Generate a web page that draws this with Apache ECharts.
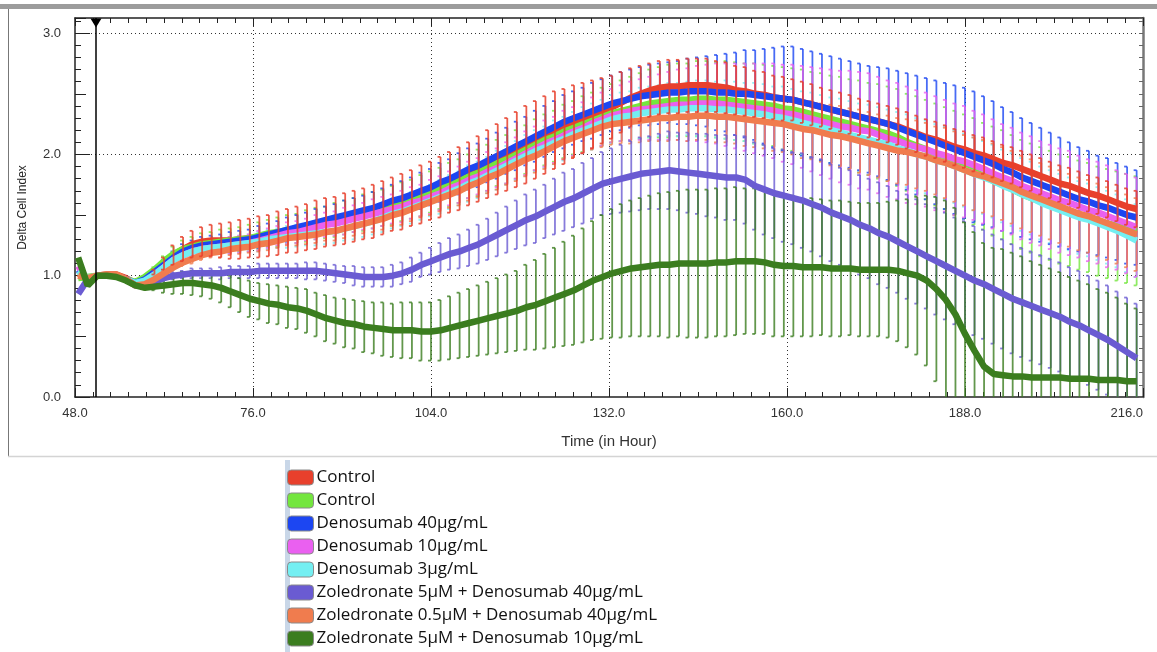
<!DOCTYPE html>
<html>
<head>
<meta charset="utf-8">
<title>Delta Cell Index</title>
<script src="https://cdn.jsdelivr.net/npm/echarts@6/dist/echarts.min.js"></script>
<style>
  html, body { margin: 0; padding: 0; background: #fff; }
  #chart { width: 1157px; height: 652px; }
</style>
</head>
<body>
<div id="chart"></div>
<script>
// sample times (hours), one error bar per sample
var hours = [
  48.5, 50, 51.5, 53, 54.5, 56, 57.5, 59, 60.5, 62,
  63.5, 65, 66.5, 68, 69.5, 71, 72.5, 74, 75.5, 77,
  78.5, 80, 81.5, 83, 84.5, 86, 87.5, 89, 90.5, 92,
  93.5, 95, 96.5, 98, 99.5, 101, 102.5, 104, 105.5, 107,
  108.5, 110, 111.5, 113, 114.5, 116, 117.5, 119, 120.5, 122,
  123.5, 125, 126.5, 128, 129.5, 131, 132.5, 134, 135.5, 137,
  138.5, 140, 141.5, 143, 144.5, 146, 147.5, 149, 150.5, 152,
  153.5, 155, 156.5, 158, 159.5, 161, 162.5, 164, 165.5, 167,
  168.5, 170, 171.5, 173, 174.5, 176, 177.5, 179, 180.5, 182,
  183.5, 185, 186.5, 188, 189.5, 191, 192.5, 194, 195.5, 197,
  198.5, 200, 201.5, 203, 204.5, 206, 207.5, 209, 210.5, 212,
  213.5, 215
];

// mean delta cell index per treatment
var control1 = [
  1.02, 0.98, 1.00, 1.01, 1.01, 0.98, 0.94, 0.97, 1.03, 1.10,
  1.17, 1.22, 1.26, 1.28, 1.29, 1.29, 1.29, 1.30, 1.31, 1.32,
  1.33, 1.35, 1.37, 1.38, 1.40, 1.42, 1.44, 1.45, 1.47, 1.49,
  1.51, 1.53, 1.56, 1.59, 1.61, 1.64, 1.67, 1.70, 1.73, 1.77,
  1.80, 1.84, 1.88, 1.92, 1.96, 2.00, 2.04, 2.08, 2.12, 2.16,
  2.20, 2.23, 2.27, 2.30, 2.33, 2.36, 2.39, 2.43, 2.47, 2.50,
  2.53, 2.55, 2.56, 2.56, 2.57, 2.57, 2.57, 2.56, 2.55, 2.53,
  2.52, 2.50, 2.49, 2.47, 2.46, 2.45, 2.43, 2.41, 2.39, 2.37,
  2.35, 2.33, 2.31, 2.29, 2.27, 2.25, 2.23, 2.20, 2.17, 2.14,
  2.12, 2.09, 2.06, 2.04, 2.01, 1.99, 1.96, 1.93, 1.91, 1.88,
  1.85, 1.82, 1.79, 1.76, 1.74, 1.71, 1.68, 1.66, 1.63, 1.60,
  1.57, 1.55
];
var control2 = [
  0.98, 0.99, 1.00, 1.00, 1.00, 0.97, 0.95, 0.99, 1.05, 1.12,
  1.18, 1.22, 1.24, 1.26, 1.27, 1.28, 1.29, 1.30, 1.31, 1.33,
  1.35, 1.36, 1.38, 1.39, 1.41, 1.43, 1.44, 1.46, 1.48, 1.50,
  1.52, 1.54, 1.56, 1.58, 1.61, 1.63, 1.66, 1.69, 1.72, 1.75,
  1.78, 1.82, 1.85, 1.89, 1.93, 1.96, 2.00, 2.04, 2.08, 2.12,
  2.15, 2.19, 2.22, 2.25, 2.28, 2.31, 2.34, 2.36, 2.38, 2.40,
  2.42, 2.43, 2.44, 2.45, 2.45, 2.46, 2.46, 2.45, 2.45, 2.44,
  2.43, 2.42, 2.41, 2.40, 2.38, 2.37, 2.35, 2.33, 2.31, 2.29,
  2.27, 2.25, 2.23, 2.21, 2.19, 2.17, 2.14, 2.10, 2.07, 2.04,
  2.00, 1.97, 1.93, 1.90, 1.86, 1.82, 1.78, 1.75, 1.71, 1.67,
  1.64, 1.61, 1.58, 1.55, 1.53, 1.50, 1.48, 1.45, 1.43, 1.41,
  1.39, 1.37
];
var deno40 = [
  1.05, 0.97, 1.00, 1.00, 1.00, 0.97, 0.94, 0.97, 1.03, 1.09,
  1.15, 1.20, 1.23, 1.25, 1.26, 1.27, 1.28, 1.29, 1.30, 1.32,
  1.34, 1.36, 1.38, 1.40, 1.42, 1.44, 1.46, 1.48, 1.50, 1.52,
  1.54, 1.56, 1.59, 1.62, 1.64, 1.67, 1.70, 1.73, 1.77, 1.80,
  1.84, 1.88, 1.91, 1.95, 1.99, 2.03, 2.07, 2.11, 2.15, 2.19,
  2.23, 2.27, 2.30, 2.33, 2.36, 2.39, 2.42, 2.44, 2.46, 2.48,
  2.49, 2.50, 2.51, 2.51, 2.52, 2.52, 2.52, 2.51, 2.51, 2.50,
  2.50, 2.49, 2.48, 2.47, 2.46, 2.45, 2.43, 2.41, 2.39, 2.37,
  2.35, 2.33, 2.31, 2.29, 2.27, 2.25, 2.22, 2.19, 2.16, 2.13,
  2.10, 2.07, 2.04, 2.01, 1.98, 1.95, 1.92, 1.88, 1.85, 1.81,
  1.78, 1.75, 1.72, 1.69, 1.66, 1.63, 1.61, 1.58, 1.56, 1.53,
  1.50, 1.48
];
var deno10 = [
  1.08, 0.96, 1.00, 1.00, 1.00, 0.97, 0.93, 0.95, 1.01, 1.07,
  1.13, 1.17, 1.20, 1.22, 1.23, 1.24, 1.25, 1.26, 1.27, 1.29,
  1.31, 1.33, 1.35, 1.36, 1.38, 1.40, 1.42, 1.43, 1.45, 1.47,
  1.49, 1.51, 1.53, 1.55, 1.57, 1.60, 1.62, 1.65, 1.68, 1.72,
  1.75, 1.79, 1.82, 1.86, 1.89, 1.93, 1.97, 2.01, 2.05, 2.09,
  2.12, 2.16, 2.19, 2.22, 2.26, 2.29, 2.32, 2.34, 2.36, 2.37,
  2.38, 2.39, 2.40, 2.41, 2.41, 2.42, 2.42, 2.42, 2.41, 2.40,
  2.39, 2.38, 2.37, 2.36, 2.34, 2.33, 2.31, 2.29, 2.27, 2.25,
  2.23, 2.22, 2.20, 2.19, 2.16, 2.13, 2.11, 2.08, 2.06, 2.04,
  2.01, 1.99, 1.96, 1.94, 1.91, 1.88, 1.84, 1.81, 1.78, 1.74,
  1.71, 1.68, 1.65, 1.62, 1.60, 1.57, 1.54, 1.52, 1.49, 1.46,
  1.43, 1.40
];
var deno3 = [
  1.04, 0.98, 1.00, 1.00, 1.00, 0.97, 0.94, 0.96, 1.01, 1.07,
  1.13, 1.17, 1.20, 1.22, 1.23, 1.24, 1.25, 1.26, 1.27, 1.28,
  1.30, 1.31, 1.32, 1.33, 1.34, 1.35, 1.36, 1.37, 1.39, 1.41,
  1.43, 1.45, 1.48, 1.51, 1.53, 1.56, 1.59, 1.62, 1.65, 1.69,
  1.72, 1.76, 1.79, 1.83, 1.87, 1.91, 1.95, 1.99, 2.03, 2.06,
  2.10, 2.13, 2.17, 2.20, 2.23, 2.26, 2.29, 2.31, 2.32, 2.34,
  2.35, 2.36, 2.37, 2.37, 2.38, 2.38, 2.38, 2.37, 2.37, 2.36,
  2.35, 2.34, 2.33, 2.31, 2.30, 2.28, 2.26, 2.24, 2.22, 2.20,
  2.18, 2.16, 2.14, 2.12, 2.10, 2.08, 2.05, 2.03, 2.00, 1.98,
  1.95, 1.93, 1.90, 1.87, 1.84, 1.81, 1.78, 1.74, 1.71, 1.67,
  1.64, 1.60, 1.57, 1.54, 1.51, 1.48, 1.46, 1.43, 1.40, 1.37,
  1.33, 1.29
];
var zol5Deno40 = [
  0.85, 0.97, 1.00, 1.00, 1.00, 0.97, 0.92, 0.92, 0.95, 0.98,
  1.00, 1.01, 1.02, 1.02, 1.02, 1.02, 1.03, 1.03, 1.03, 1.04,
  1.04, 1.04, 1.04, 1.04, 1.04, 1.04, 1.03, 1.02, 1.01, 1.00,
  0.99, 0.99, 0.99, 1.00, 1.02, 1.05, 1.09, 1.12, 1.15, 1.18,
  1.20, 1.23, 1.26, 1.30, 1.34, 1.38, 1.42, 1.46, 1.49, 1.53,
  1.57, 1.61, 1.64, 1.68, 1.72, 1.76, 1.78, 1.80, 1.82, 1.84,
  1.85, 1.86, 1.87, 1.86, 1.85, 1.84, 1.83, 1.82, 1.81, 1.81,
  1.79, 1.74, 1.71, 1.68, 1.66, 1.64, 1.62, 1.59, 1.56, 1.52,
  1.49, 1.46, 1.42, 1.39, 1.35, 1.32, 1.28, 1.24, 1.20, 1.16,
  1.12, 1.08, 1.04, 1.00, 0.96, 0.93, 0.89, 0.85, 0.81, 0.78,
  0.75, 0.72, 0.69, 0.66, 0.62, 0.59, 0.55, 0.51, 0.47, 0.42,
  0.37, 0.32
];
var zol05Deno40 = [
  1.00, 0.98, 1.00, 1.01, 1.01, 0.97, 0.92, 0.93, 0.97, 1.02,
  1.07, 1.11, 1.14, 1.17, 1.19, 1.20, 1.22, 1.23, 1.24, 1.26,
  1.27, 1.29, 1.31, 1.32, 1.33, 1.34, 1.36, 1.37, 1.39, 1.41,
  1.43, 1.45, 1.47, 1.50, 1.52, 1.55, 1.58, 1.61, 1.64, 1.67,
  1.70, 1.74, 1.77, 1.81, 1.84, 1.88, 1.92, 1.96, 1.99, 2.03,
  2.07, 2.11, 2.14, 2.17, 2.20, 2.23, 2.25, 2.26, 2.27, 2.28,
  2.29, 2.30, 2.30, 2.31, 2.31, 2.32, 2.32, 2.31, 2.31, 2.30,
  2.29, 2.28, 2.27, 2.26, 2.25, 2.23, 2.21, 2.20, 2.18, 2.16,
  2.15, 2.13, 2.11, 2.09, 2.07, 2.05, 2.03, 2.02, 2.00, 1.98,
  1.95, 1.93, 1.90, 1.87, 1.84, 1.82, 1.79, 1.76, 1.73, 1.69,
  1.66, 1.63, 1.60, 1.57, 1.54, 1.51, 1.49, 1.46, 1.43, 1.40,
  1.37, 1.34
];
var zol5Deno10 = [
  1.15, 0.92, 1.00, 1.00, 0.99, 0.96, 0.92, 0.90, 0.91, 0.92,
  0.93, 0.94, 0.94, 0.93, 0.92, 0.90, 0.87, 0.84, 0.81, 0.79,
  0.77, 0.76, 0.74, 0.73, 0.71, 0.68, 0.65, 0.63, 0.61, 0.60,
  0.58, 0.57, 0.56, 0.55, 0.55, 0.55, 0.54, 0.54, 0.55, 0.57,
  0.59, 0.61, 0.63, 0.65, 0.67, 0.69, 0.71, 0.74, 0.76, 0.79,
  0.82, 0.85, 0.88, 0.92, 0.96, 0.99, 1.02, 1.04, 1.06, 1.07,
  1.08, 1.09, 1.09, 1.10, 1.10, 1.10, 1.10, 1.11, 1.11, 1.12,
  1.12, 1.12, 1.11, 1.09, 1.08, 1.08, 1.07, 1.07, 1.07, 1.06,
  1.06, 1.06, 1.05, 1.05, 1.05, 1.05, 1.04, 1.02, 1.00, 0.96,
  0.89, 0.80, 0.68, 0.52, 0.38, 0.25, 0.19, 0.18, 0.17, 0.17,
  0.16, 0.16, 0.16, 0.16, 0.15, 0.15, 0.15, 0.14, 0.14, 0.14,
  0.13, 0.13
];

// standard deviation (half height of each error bar)
var errControl1 = [
  0, 0, 0, 0, 0, 0, 0, 0, 0.02, 0.05,
  0.08, 0.10, 0.11, 0.12, 0.13, 0.14, 0.15, 0.16, 0.16, 0.17,
  0.17, 0.18, 0.18, 0.19, 0.19, 0.20, 0.20, 0.20, 0.21, 0.21,
  0.21, 0.22, 0.22, 0.22, 0.23, 0.23, 0.24, 0.24, 0.25, 0.25,
  0.26, 0.26, 0.27, 0.28, 0.29, 0.30, 0.31, 0.32, 0.32, 0.32,
  0.32, 0.31, 0.30, 0.29, 0.28, 0.27, 0.26, 0.25, 0.24, 0.23,
  0.22, 0.22, 0.22, 0.22, 0.22, 0.22, 0.22, 0.21, 0.21, 0.20,
  0.20, 0.19, 0.19, 0.18, 0.18, 0.17, 0.17, 0.17, 0.16, 0.16,
  0.16, 0.16, 0.15, 0.15, 0.15, 0.15, 0.15, 0.15, 0.15, 0.15,
  0.15, 0.15, 0.15, 0.15, 0.15, 0.15, 0.15, 0.15, 0.15, 0.15,
  0.15, 0.15, 0.15, 0.15, 0.15, 0.15, 0.15, 0.15, 0.15, 0.15,
  0.15, 0.15
];
var errControl2 = [
  0, 0, 0, 0, 0, 0, 0, 0, 0.02, 0.04,
  0.06, 0.07, 0.08, 0.09, 0.09, 0.10, 0.10, 0.10, 0.11, 0.11,
  0.11, 0.12, 0.12, 0.12, 0.13, 0.13, 0.13, 0.14, 0.14, 0.14,
  0.15, 0.15, 0.15, 0.16, 0.16, 0.16, 0.17, 0.17, 0.17, 0.18,
  0.18, 0.18, 0.19, 0.19, 0.19, 0.20, 0.20, 0.20, 0.21, 0.21,
  0.21, 0.22, 0.22, 0.23, 0.23, 0.24, 0.24, 0.25, 0.26, 0.27,
  0.28, 0.29, 0.30, 0.30, 0.30, 0.31, 0.31, 0.31, 0.32, 0.32,
  0.32, 0.33, 0.33, 0.33, 0.34, 0.34, 0.35, 0.35, 0.36, 0.36,
  0.37, 0.37, 0.38, 0.38, 0.39, 0.39, 0.40, 0.40, 0.41, 0.41,
  0.42, 0.42, 0.43, 0.43, 0.44, 0.44, 0.45, 0.45, 0.45, 0.45,
  0.45, 0.45, 0.45, 0.45, 0.45, 0.45, 0.45, 0.45, 0.45, 0.45,
  0.45, 0.45
];
var errDeno40 = [
  0, 0, 0, 0, 0, 0, 0, 0, 0.02, 0.04,
  0.05, 0.06, 0.06, 0.07, 0.07, 0.07, 0.08, 0.08, 0.08, 0.09,
  0.09, 0.09, 0.10, 0.10, 0.10, 0.11, 0.11, 0.11, 0.12, 0.12,
  0.12, 0.13, 0.13, 0.13, 0.14, 0.14, 0.15, 0.15, 0.16, 0.16,
  0.17, 0.17, 0.18, 0.18, 0.19, 0.19, 0.20, 0.20, 0.21, 0.21,
  0.21, 0.22, 0.22, 0.22, 0.23, 0.23, 0.23, 0.24, 0.24, 0.24,
  0.25, 0.25, 0.25, 0.26, 0.27, 0.28, 0.29, 0.31, 0.32, 0.34,
  0.36, 0.37, 0.39, 0.41, 0.43, 0.44, 0.44, 0.44, 0.44, 0.44,
  0.44, 0.44, 0.44, 0.44, 0.45, 0.46, 0.47, 0.48, 0.49, 0.50,
  0.51, 0.52, 0.53, 0.54, 0.54, 0.53, 0.52, 0.51, 0.50, 0.49,
  0.48, 0.47, 0.46, 0.45, 0.44, 0.43, 0.42, 0.41, 0.41, 0.40,
  0.40, 0.39
];
var errDeno10 = [
  0, 0, 0, 0, 0, 0, 0, 0, 0.02, 0.03,
  0.04, 0.05, 0.05, 0.06, 0.06, 0.06, 0.07, 0.07, 0.07, 0.08,
  0.08, 0.08, 0.09, 0.09, 0.09, 0.10, 0.10, 0.10, 0.11, 0.11,
  0.11, 0.12, 0.12, 0.12, 0.13, 0.13, 0.13, 0.14, 0.14, 0.14,
  0.15, 0.15, 0.15, 0.16, 0.16, 0.17, 0.17, 0.18, 0.18, 0.19,
  0.19, 0.20, 0.20, 0.21, 0.21, 0.22, 0.22, 0.23, 0.24, 0.25,
  0.26, 0.27, 0.28, 0.29, 0.30, 0.31, 0.32, 0.33, 0.34, 0.35,
  0.36, 0.37, 0.38, 0.39, 0.40, 0.41, 0.42, 0.43, 0.44, 0.45,
  0.46, 0.47, 0.48, 0.48, 0.48, 0.48, 0.48, 0.48, 0.47, 0.47,
  0.47, 0.46, 0.46, 0.46, 0.45, 0.45, 0.45, 0.44, 0.44, 0.44,
  0.44, 0.43, 0.43, 0.43, 0.43, 0.42, 0.42, 0.42, 0.42, 0.41,
  0.41, 0.41
];
var errDeno3 = [
  0, 0, 0, 0, 0, 0, 0, 0, 0.02, 0.03,
  0.04, 0.05, 0.05, 0.06, 0.06, 0.06, 0.07, 0.07, 0.07, 0.08,
  0.08, 0.08, 0.09, 0.09, 0.09, 0.10, 0.10, 0.10, 0.10, 0.11,
  0.11, 0.11, 0.12, 0.12, 0.12, 0.13, 0.13, 0.13, 0.14, 0.14,
  0.14, 0.15, 0.15, 0.15, 0.16, 0.16, 0.16, 0.17, 0.17, 0.17,
  0.18, 0.18, 0.18, 0.19, 0.19, 0.19, 0.20, 0.20, 0.20, 0.21,
  0.21, 0.21, 0.22, 0.22, 0.22, 0.23, 0.23, 0.23, 0.24, 0.24,
  0.24, 0.25, 0.25, 0.25, 0.26, 0.26, 0.26, 0.27, 0.27, 0.27,
  0.28, 0.28, 0.28, 0.29, 0.29, 0.29, 0.30, 0.30, 0.30, 0.30,
  0.30, 0.30, 0.30, 0.30, 0.30, 0.30, 0.30, 0.30, 0.30, 0.30,
  0.30, 0.30, 0.30, 0.30, 0.30, 0.30, 0.30, 0.30, 0.30, 0.30,
  0.30, 0.30
];
var errZol5Deno40 = [
  0, 0, 0, 0, 0, 0, 0, 0, 0.01, 0.02,
  0.03, 0.03, 0.04, 0.04, 0.04, 0.05, 0.05, 0.05, 0.05, 0.06,
  0.06, 0.06, 0.06, 0.06, 0.07, 0.07, 0.07, 0.07, 0.07, 0.08,
  0.08, 0.08, 0.08, 0.09, 0.09, 0.10, 0.10, 0.11, 0.12, 0.13,
  0.14, 0.15, 0.16, 0.17, 0.18, 0.19, 0.20, 0.21, 0.22, 0.22,
  0.23, 0.24, 0.24, 0.25, 0.25, 0.26, 0.27, 0.28, 0.29, 0.30,
  0.30, 0.31, 0.32, 0.32, 0.33, 0.33, 0.34, 0.34, 0.35, 0.35,
  0.36, 0.36, 0.37, 0.37, 0.38, 0.38, 0.39, 0.39, 0.40, 0.40,
  0.40, 0.41, 0.41, 0.41, 0.42, 0.42, 0.42, 0.43, 0.43, 0.43,
  0.44, 0.44, 0.44, 0.45, 0.45, 0.45, 0.45, 0.45, 0.45, 0.45,
  0.45, 0.45, 0.45, 0.45, 0.45, 0.45, 0.45, 0.45, 0.45, 0.45,
  0.45, 0.45
];
var errZol05Deno40 = [
  0, 0, 0, 0, 0, 0, 0, 0, 0.01, 0.02,
  0.03, 0.03, 0.04, 0.04, 0.04, 0.05, 0.05, 0.05, 0.05, 0.06,
  0.06, 0.06, 0.06, 0.07, 0.07, 0.07, 0.07, 0.08, 0.08, 0.08,
  0.08, 0.09, 0.09, 0.09, 0.10, 0.10, 0.10, 0.11, 0.11, 0.11,
  0.12, 0.12, 0.12, 0.13, 0.13, 0.13, 0.14, 0.14, 0.14, 0.15,
  0.15, 0.15, 0.16, 0.16, 0.16, 0.17, 0.17, 0.17, 0.18, 0.18,
  0.18, 0.19, 0.19, 0.19, 0.20, 0.20, 0.20, 0.21, 0.21, 0.21,
  0.22, 0.22, 0.22, 0.23, 0.23, 0.23, 0.24, 0.24, 0.24, 0.25,
  0.25, 0.25, 0.26, 0.26, 0.26, 0.27, 0.27, 0.27, 0.28, 0.28,
  0.28, 0.29, 0.29, 0.29, 0.30, 0.30, 0.30, 0.30, 0.30, 0.30,
  0.30, 0.30, 0.30, 0.30, 0.30, 0.30, 0.30, 0.30, 0.30, 0.30,
  0.30, 0.30
];
var errZol5Deno10 = [
  0, 0, 0, 0, 0, 0, 0, 0, 0.03, 0.06,
  0.08, 0.09, 0.10, 0.10, 0.11, 0.12, 0.13, 0.14, 0.15, 0.15,
  0.16, 0.16, 0.17, 0.17, 0.18, 0.18, 0.19, 0.19, 0.20, 0.20,
  0.21, 0.21, 0.22, 0.22, 0.23, 0.23, 0.24, 0.24, 0.25, 0.26,
  0.27, 0.28, 0.29, 0.30, 0.31, 0.32, 0.33, 0.35, 0.37, 0.39,
  0.41, 0.43, 0.45, 0.47, 0.49, 0.51, 0.53, 0.55, 0.56, 0.57,
  0.58, 0.59, 0.60, 0.60, 0.61, 0.61, 0.61, 0.61, 0.61, 0.61,
  0.60, 0.60, 0.59, 0.59, 0.58, 0.58, 0.57, 0.57, 0.56, 0.56,
  0.56, 0.55, 0.55, 0.55, 0.55, 0.56, 0.58, 0.61, 0.65, 0.70,
  0.76, 0.82, 0.88, 0.92, 0.98, 1.02, 1.04, 1.04, 1.02, 0.99,
  0.96, 0.93, 0.90, 0.87, 0.84, 0.81, 0.78, 0.75, 0.72, 0.68,
  0.64, 0.60
];

var seriesNames = [
  'Control',
  'Control ',
  'Denosumab 40µg/mL',
  'Denosumab 10µg/mL',
  'Denosumab 3µg/mL',
  'Zoledronate 5µM + Denosumab 40µg/mL',
  'Zoledronate 0.5µM + Denosumab 40µg/mL',
  'Zoledronate 5µM + Denosumab 10µg/mL'
];
var seriesColors = ['#e8402c', '#74e63e', '#1c46f2', '#ea60f0', '#74eff2', '#6a5bd2', '#f07c4e', '#3b7d1f'];
// order in which the error bars are stacked (last one on top)
var barOrder = [1, 4, 2, 3, 6, 5, 7, 0];

var normTime = 51.3;   // normalisation time marker
var yTop = 3.125;

var means = [control1, control2, deno40, deno10, deno3, zol5Deno40, zol05Deno40, zol5Deno10];
var errs = [errControl1, errControl2, errDeno40, errDeno10, errDeno3, errZol5Deno40, errZol05Deno40, errZol5Deno10];

var chart = echarts.init(document.getElementById('chart'));

function barRenderer(color, alpha) {
  return function (params, api) {
    var hi = api.coord([api.value(0), api.value(2)]);
    var lo = api.coord([api.value(0), api.value(1)]);
    var st = { stroke: color, lineWidth: 1.8, opacity: alpha };
    return {
      type: 'group',
      children: [
        { type: 'line', shape: { x1: hi[0], y1: hi[1], x2: lo[0], y2: lo[1] }, style: st },
        { type: 'line', shape: { x1: hi[0] - 3, y1: hi[1], x2: hi[0], y2: hi[1] }, style: st },
        { type: 'line', shape: { x1: lo[0] - 3, y1: lo[1], x2: lo[0], y2: lo[1] }, style: st }
      ]
    };
  };
}

var series = [];
// error bars go under the mean lines, except the first control which sits on top
barOrder.forEach(function (k) {
  var m = means[k];
  var bars = [];
  for (var i = 0; i < hours.length; i++) {
    if (errs[k][i] > 0) bars.push([hours[i], m[i] - errs[k][i], m[i] + errs[k][i]]);
  }
  series.push({
    name: seriesNames[k] + ' sd',
    type: 'custom',
    renderItem: barRenderer(seriesColors[k], k === 0 ? 0.85 : 0.8),
    encode: { x: 0, y: [1, 2] },
    data: bars,
    clip: true,
    silent: true,
    z: k === 0 ? 4 : 1
  });
});
means.forEach(function (m, k) {
  var s = {
    name: seriesNames[k],
    type: 'line',
    data: hours.map(function (h, i) { return [h, m[i]]; }),
    symbol: 'none',
    showSymbol: false,
    lineStyle: { width: 6.5, color: seriesColors[k] },
    itemStyle: { color: seriesColors[k] },
    silent: true,
    z: 3
  };
  if (k === 0) {
    s.markLine = {
      symbol: 'none', silent: true, label: { show: false },
      lineStyle: { color: '#000', width: 1.5, type: 'solid' },
      data: [{ xAxis: normTime }]
    };
    s.markPoint = {
      silent: true,
      data: [{ coord: [normTime, yTop], symbol: 'triangle', symbolSize: [11, 9], symbolRotate: 180,
               symbolOffset: [0, 5], itemStyle: { color: '#000' }, label: { show: false } }]
    };
  }
  series.push(s);
});

var tickColor = '#222';
var labelFont = { color: '#333', fontSize: 13, fontFamily: 'Liberation Sans' };

var option = {
  animation: false,
  backgroundColor: '#fff',
  grid: { left: 75, right: 14, top: 18, bottom: 255 },
  graphic: [
    { type: 'rect', z: -10, shape: { x: 0, y: 4, width: 1157, height: 5 }, style: { fill: '#9c9c9c' }, silent: true },
    { type: 'line', z: -10, shape: { x1: 8.5, y1: 9, x2: 8.5, y2: 456 }, style: { stroke: '#777', lineWidth: 1 }, silent: true },
    { type: 'line', z: -10, shape: { x1: 8, y1: 456.5, x2: 1157, y2: 456.5 }, style: { stroke: '#d4d4d4', lineWidth: 1.5 }, silent: true },
    { type: 'rect', z: -10, shape: { x: 285, y: 460, width: 5, height: 192 }, style: { fill: '#c9d7e8' }, silent: true }
  ],
  legend: {
    orient: 'vertical',
    left: 287,
    top: 469,
    padding: 0,
    itemWidth: 26,
    itemHeight: 15,
    itemGap: 6,
    icon: 'roundRect',
    selectedMode: false,
    data: seriesNames,
    itemStyle: { borderColor: '#8a8a8a', borderWidth: 1 },
    textStyle: { fontFamily: 'Open Sans', fontSize: 17, color: '#111', padding: [0, 0, 0, -2] }
  },
  xAxis: [
    {
      type: 'value', min: 48, max: 216, interval: 28, position: 'bottom',
      axisLine: { onZero: false, lineStyle: { color: tickColor, width: 1.5 } },
      axisTick: { inside: true, length: 9, lineStyle: { color: tickColor } },
      minorTick: { show: true, splitNumber: 10, length: 5, lineStyle: { color: tickColor } },
      axisLabel: Object.assign({ margin: 10, alignMaxLabel: 'right',
        formatter: function (v) { return v.toFixed(1); } }, labelFont),
      splitLine: { show: true, showMinLine: false, showMaxLine: false,
        lineStyle: { color: '#333', width: 1, type: [1, 3] } },
      name: 'Time (in Hour)', nameLocation: 'middle', nameGap: 37,
      nameTextStyle: { fontSize: 15, color: '#333', fontFamily: 'Liberation Sans' }
    },
    {
      type: 'value', min: 48, max: 216, interval: 28, position: 'top',
      axisLine: { onZero: false, lineStyle: { color: tickColor, width: 1.5 } },
      axisTick: { inside: true, length: 8, lineStyle: { color: tickColor } },
      minorTick: { show: true, splitNumber: 10, length: 5, lineStyle: { color: tickColor } },
      axisLabel: { show: false },
      splitLine: { show: false }
    }
  ],
  yAxis: [
    {
      type: 'value', min: 0, max: yTop, interval: 1, position: 'left',
      axisLine: { onZero: false, lineStyle: { color: tickColor, width: 1.5 } },
      axisTick: { inside: true, length: 15, lineStyle: { color: tickColor } },
      axisLabel: Object.assign({ margin: 14, showMaxLabel: false,
        formatter: function (v) { return v.toFixed(1); } }, labelFont),
      splitLine: { show: true, showMinLine: false, showMaxLine: false,
        lineStyle: { color: '#333', width: 1, type: [1, 3] } },
      name: 'Delta Cell Index', nameLocation: 'middle', nameGap: 46,
      nameTextStyle: { fontSize: 12, color: '#222', fontFamily: 'Liberation Sans' }
    },
    {
      type: 'value', min: 0, max: yTop, interval: 0.5, position: 'left',
      axisLine: { show: false, onZero: false },
      axisTick: { inside: true, length: 11, lineStyle: { color: tickColor } },
      axisLabel: { show: false }, splitLine: { show: false }
    },
    {
      type: 'value', min: 0, max: yTop, interval: 0.1, position: 'left',
      axisLine: { show: false, onZero: false },
      axisTick: { inside: true, length: 6, lineStyle: { color: tickColor } },
      axisLabel: { show: false }, splitLine: { show: false }
    },
    {
      type: 'value', min: 0, max: yTop, interval: 0.1, position: 'right',
      axisLine: { onZero: false, lineStyle: { color: '#777', width: 2.5 } },
      axisTick: { inside: true, length: 4, lineStyle: { color: '#666' } },
      axisLabel: { show: false }, splitLine: { show: false }
    }
  ],
  series: series
};

chart.setOption(option);
</script>
</body>
</html>
